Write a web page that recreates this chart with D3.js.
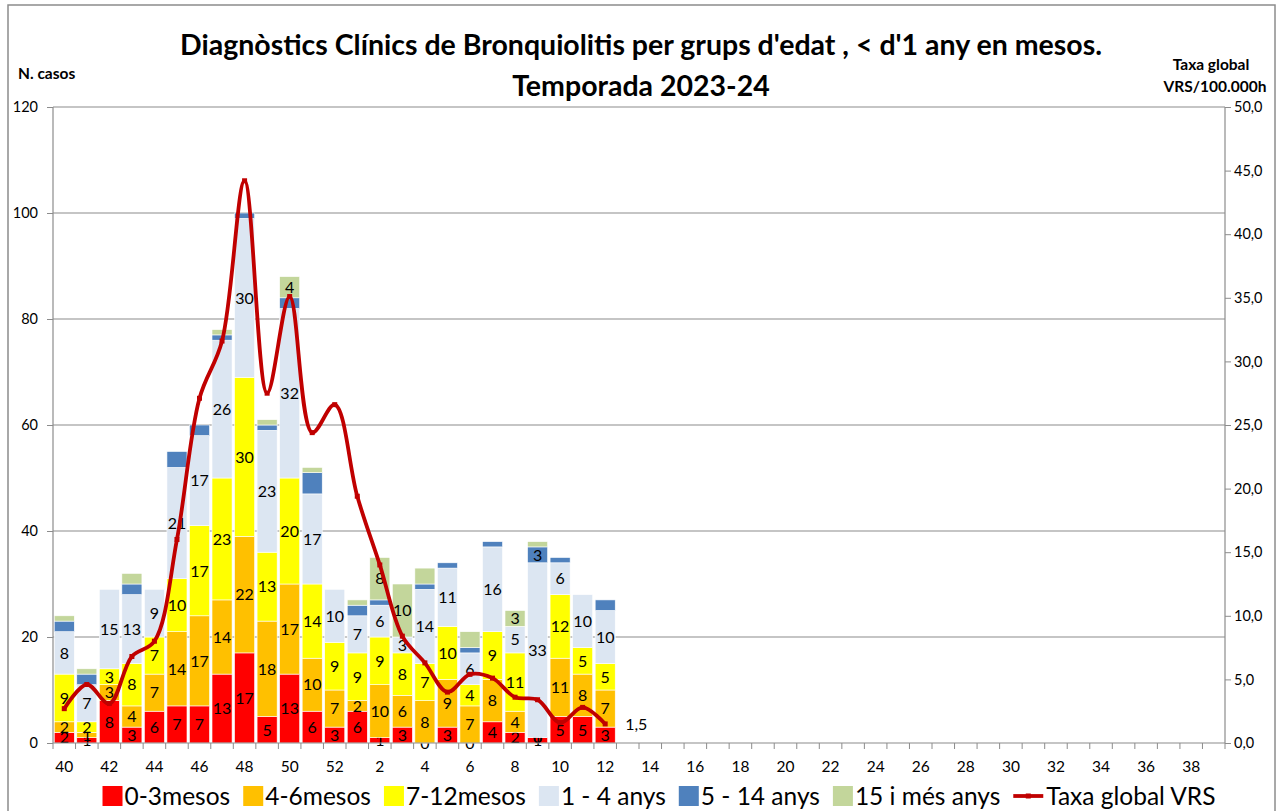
<!DOCTYPE html>
<html>
<head>
<meta charset="utf-8">
<script src="https://cdn.jsdelivr.net/npm/d3@7"></script>
<style>
  body { margin: 0; background: #fff; }
  text { font-family: Lato, 'Liberation Sans', sans-serif; fill: #000; }
</style>
</head>
<body>
<script>
// all weeks of the season on the x axis (40..52, then 1..39)
var weeks = ['40','41','42','43','44','45','46','47','48','49','50','51','52',
  '1','2','3','4','5','6','7','8','9','10','11','12','13','14','15','16','17','18','19','20',
  '21','22','23','24','25','26','27','28','29','30','31','32','33','34','35','36','37','38','39'];
var tickWeeks = ['40','42','44','46','48','50','52','2','4','6','8','10','12','14','16','18','20',
  '22','24','26','28','30','32','34','36','38'];

// weeks with data so far
var dataWeeks = ['40','41','42','43','44','45','46','47','48','49','50','51','52',
  '1','2','3','4','5','6','7','8','9','10','11','12'];

var mesos0_3  = [2,1,8,3,6,7,7,13,17,5,13,6,3,6,1,3,0,3,0,4,2,1,5,5,3];
var mesos4_6  = [2,1,3,4,7,14,17,14,22,18,17,10,7,2,10,6,8,9,7,8,4,0,11,8,7];
var mesos7_12 = [9,2,3,8,7,10,17,23,30,13,20,14,9,9,9,8,7,10,4,9,11,0,12,5,5];
var anys1_4   = [8,7,15,13,9,21,17,26,30,23,32,17,10,7,6,3,14,11,6,16,5,33,6,10,10];
var anys5_14  = [2,2,0,2,0,3,2,1,1,1,2,4,0,2,1,0,1,1,1,1,0,3,1,0,2];
var anys15    = [1,1,0,2,0,0,0,1,0,1,4,1,0,1,8,10,3,0,3,0,3,1,0,0,0];
var taxaVRS   = [2.7,4.6,3.1,6.8,8.0,16.0,27.1,31.6,44.2,27.5,35.1,24.4,26.6,19.4,14.0,8.4,6.3,4.0,5.4,5.1,3.6,3.4,1.6,2.8,1.5];

var seriesNames = ['0-3mesos','4-6mesos','7-12mesos','1 - 4 anys','5 - 14 anys','15 i més anys'];
var seriesColors = ['#ff0000','#ffc000','#ffff00','#dce6f2','#4f81bd','#c3d69b'];
// which weeks show a value label for the upper series
var blueLabelWeeks = ['9'];
var greenLabelWeeks = ['50','2','3','8'];

var width = 1277, height = 811;
var plotLeft = 53, plotRight = 1225, plotTop = 107, plotBottom = 743;

var svg = d3.select('body').append('svg')
  .attr('width', width)
  .attr('height', height);

// chart border
svg.append('rect')
  .attr('x', 8).attr('y', 5)
  .attr('width', 1267).attr('height', 830)
  .attr('fill', 'none')
  .attr('stroke', '#8c8c8c')
  .attr('stroke-width', 1.5);

var x = d3.scaleBand()
  .domain(weeks)
  .range([plotLeft, plotRight])
  .paddingInner(0.11)
  .paddingOuter(0.055);

var y = d3.scaleLinear().domain([0, 120]).range([plotBottom, plotTop]);
var y2 = d3.scaleLinear().domain([0, 50]).range([plotBottom, plotTop]);

// gridlines
svg.append('g')
  .selectAll('line')
  .data([20, 40, 60, 80, 100, 120])
  .enter()
  .append('line')
    .attr('x1', plotLeft).attr('x2', plotRight)
    .attr('y1', function (d) { return y(d); })
    .attr('y2', function (d) { return y(d); })
    .attr('stroke', '#8c8c8c')
    .attr('stroke-width', 1.2);

// stacked table for the bars
var table = dataWeeks.map(function (w, i) {
  return {week: w, s0: mesos0_3[i], s1: mesos4_6[i], s2: mesos7_12[i],
          s3: anys1_4[i], s4: anys5_14[i], s5: anys15[i]};
});
var keys = ['s0','s1','s2','s3','s4','s5'];
var stack = d3.stack().keys(keys)(table);

var layers = svg.append('g')
  .selectAll('g')
  .data(stack)
  .enter()
  .append('g')
    .attr('fill', function (d, i) { return seriesColors[i]; });

layers.selectAll('rect')
  .data(function (d) { return d; })
  .enter()
  .append('rect')
    .attr('x', function (d) { return x(d.data.week); })
    .attr('width', x.bandwidth())
    .attr('y', function (d) { return y(d[1]); })
    .attr('height', function (d) { return y(d[0]) - y(d[1]); })
    .attr('stroke', '#fff')
    .attr('stroke-width', 0.6);

// value labels inside the segments
layers.each(function (layer, li) {
  d3.select(this).selectAll('text')
    .data(layer.filter(function (d) {
      if (li < 4) return true;
      if (li === 4) return blueLabelWeeks.indexOf(d.data.week) >= 0;
      return greenLabelWeeks.indexOf(d.data.week) >= 0;
    }))
    .enter()
    .append('text')
      .attr('x', function (d) { return x(d.data.week) + x.bandwidth() / 2; })
      .attr('y', function (d) { return y((d[0] + d[1]) / 2); })
      .attr('dy', '0.36em')
      .attr('text-anchor', 'middle')
      .style('font-size', '16px')
      .text(function (d) { return d.data[layer.key]; });
});

// axes lines
svg.append('line')
  .attr('x1', plotLeft).attr('x2', plotLeft).attr('y1', plotTop).attr('y2', plotBottom)
  .attr('stroke', '#8c8c8c').attr('stroke-width', 1.2);
svg.append('line')
  .attr('x1', plotRight).attr('x2', plotRight).attr('y1', plotTop).attr('y2', plotBottom)
  .attr('stroke', '#8c8c8c').attr('stroke-width', 1.2);
svg.append('line')
  .attr('x1', plotLeft).attr('x2', plotRight).attr('y1', plotBottom).attr('y2', plotBottom)
  .attr('stroke', '#8c8c8c').attr('stroke-width', 1.2);

// left axis
var yAxis = d3.axisLeft(y).tickValues([0,20,40,60,80,100,120]).tickSize(6).tickSizeOuter(0);
var gy = svg.append('g')
  .attr('transform', 'translate(' + plotLeft + ',0)')
  .call(yAxis);
gy.select('.domain').remove();
gy.selectAll('line').attr('stroke', '#8c8c8c');
gy.selectAll('text').style('font-size', '14.5px').style('font-family', 'Lato').attr('x', -15);

// right axis
var fmt = function (d) { return d3.format('.1f')(d).replace('.', ','); };
var y2Axis = d3.axisRight(y2).tickValues([0,5,10,15,20,25,30,35,40,45,50]).tickFormat(fmt).tickSize(6).tickSizeOuter(0);
var gy2 = svg.append('g')
  .attr('transform', 'translate(' + plotRight + ',0)')
  .call(y2Axis);
gy2.select('.domain').remove();
gy2.selectAll('line').attr('stroke', '#8c8c8c');
gy2.selectAll('text').style('font-size', '14.5px').style('font-family', 'Lato').attr('x', 9);

// x ticks on the category boundaries
var half = (x.step() - x.bandwidth()) / 2;
var bounds = weeks.map(function (w) { return x(w) - half; }).concat([plotRight]);
svg.append('g')
  .selectAll('line')
  .data(bounds)
  .enter()
  .append('line')
    .attr('x1', function (d) { return d; })
    .attr('x2', function (d) { return d; })
    .attr('y1', plotBottom).attr('y2', plotBottom + 6)
    .attr('stroke', '#8c8c8c');

var xAxis = d3.axisBottom(x).tickValues(tickWeeks).tickSize(0);
var gx = svg.append('g')
  .attr('transform', 'translate(0,' + plotBottom + ')')
  .call(xAxis);
gx.select('.domain').remove();
gx.selectAll('text').style('font-size', '15.5px').style('font-family', 'Lato').attr('y', 18);

// VRS rate line
var line = d3.line()
  .x(function (d, i) { return x(dataWeeks[i]) + x.bandwidth() / 2; })
  .y(function (d) { return y2(d); })
  .curve(d3.curveCatmullRom);

svg.append('path')
  .datum(taxaVRS)
  .attr('d', line)
  .attr('fill', 'none')
  .attr('stroke', '#c00000')
  .attr('stroke-width', 3.8);

svg.append('g')
  .selectAll('rect')
  .data(taxaVRS)
  .enter()
  .append('rect')
    .attr('x', function (d, i) { return x(dataWeeks[i]) + x.bandwidth() / 2 - 2.5; })
    .attr('y', function (d) { return y2(d) - 2.5; })
    .attr('width', 5).attr('height', 5)
    .attr('fill', '#c00000');

// label of the last rate
var last = taxaVRS.length - 1;
svg.append('text')
  .attr('x', x(dataWeeks[last]) + x.bandwidth() / 2 + 20)
  .attr('y', y2(taxaVRS[last]))
  .attr('dy', '0.36em')
  .style('font-size', '16px')
  .text(fmt(taxaVRS[last]));

// titles
svg.append('text')
  .attr('x', 641).attr('y', 55)
  .attr('text-anchor', 'middle')
  .style('font-size', '28.5px').style('font-weight', 'bold')
  .text("Diagnòstics Clínics de Bronquiolitis per grups d'edat , < d'1 any en mesos.");
svg.append('text')
  .attr('x', 641).attr('y', 96)
  .attr('text-anchor', 'middle')
  .style('font-size', '28.5px').style('font-weight', 'bold')
  .text('Temporada 2023-24');

svg.append('text')
  .attr('x', 18).attr('y', 79)
  .style('font-size', '15.5px').style('font-weight', 'bold')
  .text('N. casos');
svg.append('text')
  .attr('x', 1211).attr('y', 70)
  .attr('text-anchor', 'middle')
  .style('font-size', '15.5px').style('font-weight', 'bold')
  .text('Taxa global');
svg.append('text')
  .attr('x', 1215).attr('y', 92)
  .attr('text-anchor', 'middle')
  .style('font-size', '15.5px').style('font-weight', 'bold')
  .text('VRS/100.000h');

// legend
var legendNames = seriesNames.concat(['Taxa global VRS']);
var legend = svg.append('g');
var lx = 0;
legendNames.forEach(function (name, i) {
  var g = legend.append('g').attr('transform', 'translate(' + lx + ',0)');
  var keyW;
  if (i < 6) {
    g.append('rect').attr('x', 0).attr('y', -10).attr('width', 20).attr('height', 20)
      .attr('fill', seriesColors[i]);
    keyW = 22;
  } else {
    g.append('line').attr('x1', 0).attr('x2', 30).attr('y1', 0).attr('y2', 0)
      .attr('stroke', '#c00000').attr('stroke-width', 3.8);
    g.append('rect').attr('x', 12.5).attr('y', -2.5).attr('width', 5).attr('height', 5)
      .attr('fill', '#c00000');
    keyW = 33;
  }
  var t = g.append('text').attr('x', keyW).attr('dy', '0.36em')
    .style('font-size', '24.5px')
    .text(name);
  lx += keyW + t.node().getComputedTextLength() + 13;
});
var legendW = lx - 13;
legend.attr('transform', 'translate(' + (659 - legendW / 2) + ',796)');
</script>
</body>
</html>
